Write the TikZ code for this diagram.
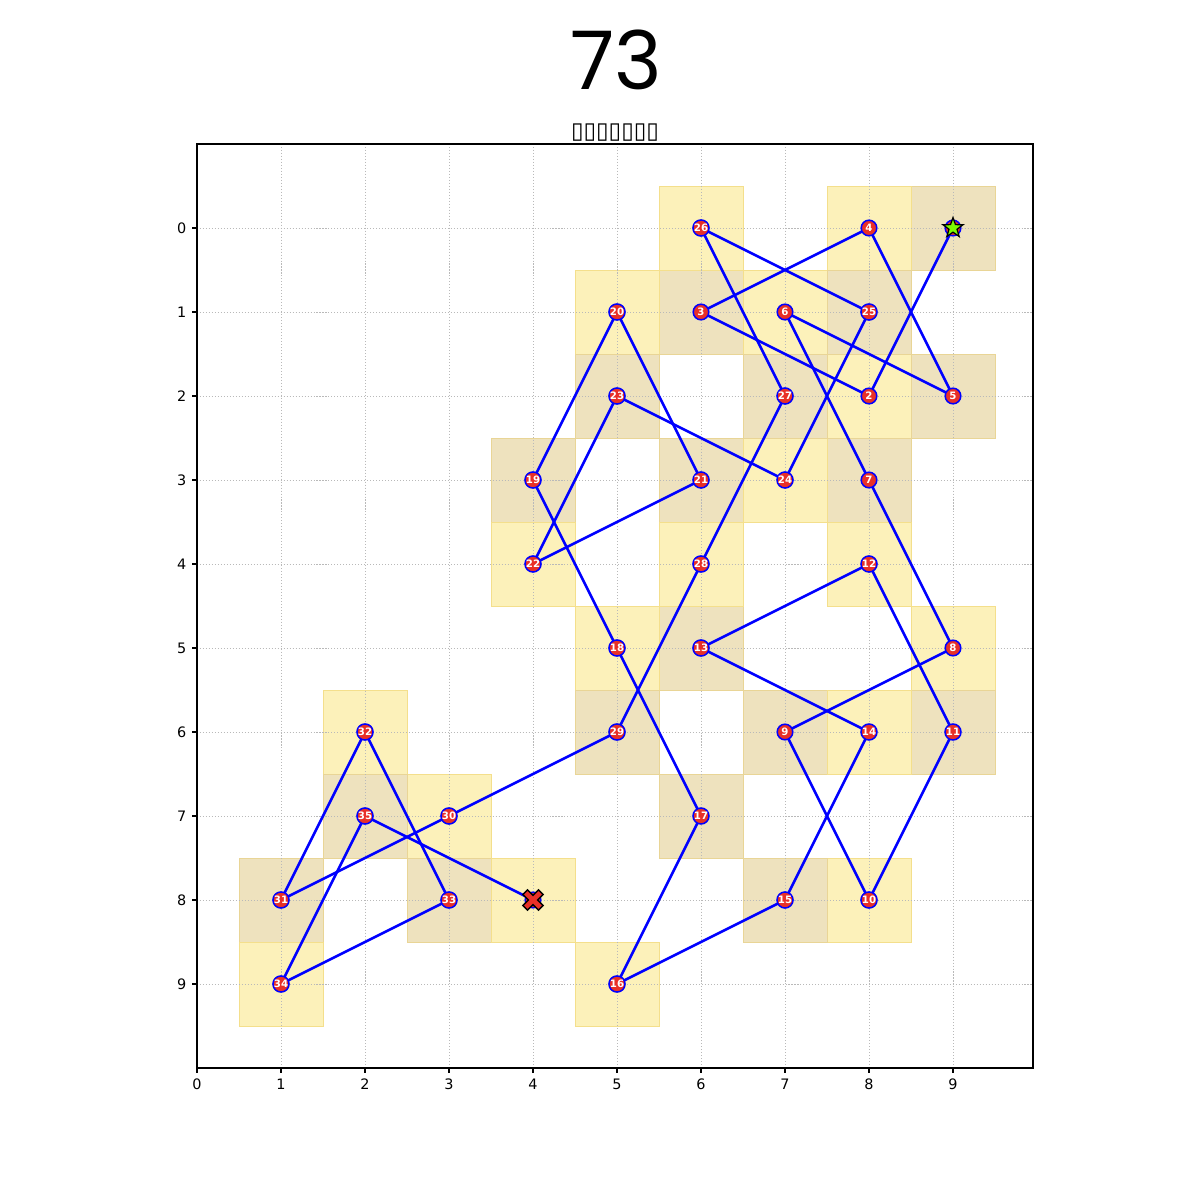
\documentclass[tikz,border=0pt]{standalone}
\usepackage{fontspec}
\setmainfont{DejaVu Sans}
\newfontfamily\titlefont{Poppins}
\newfontfamily\dvs{DejaVu Sans}
\usetikzlibrary{shapes.geometric}
\pgfdeclarelayer{bg}
\pgfsetlayers{bg,main}
\definecolor{cellAfill}{RGB}{252,241,186}
\definecolor{cellAedge}{RGB}{244,223,140}
\definecolor{cellBfill}{RGB}{238,226,190}
\definecolor{cellBedge}{RGB}{233,213,150}
\definecolor{dotred}{RGB}{232,48,40}
\definecolor{startgreen}{RGB}{124,252,0}
\definecolor{gridgray}{RGB}{185,185,185}
\tikzset{
  cellA/.style={fill=cellAfill, draw=cellAedge, line width=0.28pt},
  cellB/.style={fill=cellBfill, draw=cellBedge, line width=0.28pt},
  gridl/.style={gridgray, line width=0.25pt, dash pattern=on 0.3pt off 0.55pt},
  frame/.style={black, line width=0.32pt},
  tickl/.style={black, line width=0.32pt},
  ticklab/.style={font=\dvs\fontsize{4.1}{4.6}\selectfont, inner sep=0pt},
  tour/.style={blue, line width=0.75pt},
  dot/.style={circle, fill=dotred, draw=blue, line width=0.43pt, minimum size=1.56mm, inner sep=0pt,
     text=white, font=\dvs\bfseries\fontsize{2.9}{3}\selectfont},
  startmark/.style={star, star points=5, star point ratio=2.5, fill=startgreen, draw=black,
     line width=0.35pt, minimum size=2.1mm, inner sep=0pt},
  endmark/.style={fill=dotred, draw=black, line width=0.4pt, line join=miter},
}
\begin{document}
\begin{tikzpicture}[x=0.1mm,y=-0.1mm]
\useasboundingbox (0,0) rectangle (1200,1200);
\begin{pgfonlayer}{bg}
  \fill[white] (0,0) rectangle (1200,1200);
\end{pgfonlayer}
\node[font=\titlefont\fontsize{23}{26}\selectfont, inner sep=0pt] (title) at (616,60) {73};
\node[font=\dvs\fontsize{6.5}{7}\selectfont, inner sep=0pt] (subtitle) at (615,133) {▯▯▯▯▯▯▯};
\begin{scope}[shift={(1.97cm,-2.28cm)}, x=8.4mm, y=-8.4mm]
  \begin{pgfonlayer}{bg}
    \foreach \x/\y in {9/0,8/2,6/1,8/0,9/2,7/1,8/3,9/5,7/6,8/8,9/6,8/4,6/5,8/6,7/8,5/9,6/7,5/5,
                       4/3,5/1,6/3,4/4,5/2,7/3,8/1,6/0,7/2,6/4,5/6,3/7,1/8,2/6,3/8,1/9,2/7,4/8} {
      \pgfmathtruncatemacro\cellpar{mod(\x+\y,2)}
      \ifnum\cellpar=0 \def\cellsty{cellA}\else\def\cellsty{cellB}\fi
      \path[\cellsty] (\x-0.5,\y-0.5) rectangle (\x+0.5,\y+0.5);
    }
    \foreach \i in {0,...,9} {
      \draw[gridl] (\i,-1) -- (\i,10);
      \draw[gridl] (0,\i) -- (9.952,\i);
    }
  \end{pgfonlayer}
  % frame, ticks, labels
  \draw[frame] (0,-1) rectangle (9.952,10);
  \foreach \i in {0,...,9} {
    \draw[tickl] (\i,10) -- ++(0,-0.49mm);
    \node[ticklab] (xl\i) at (\i,10.19) {\i};
    \draw[tickl] (0,\i) -- ++(-0.49mm,0);
    \node[ticklab, anchor=east] (yl\i) at (-0.119,\i) {\i};
  }
  % tour nodes
  \node[dot] (n1) at (9,0) {};
  \foreach \x/\y/\n in {8/2/2,6/1/3,8/0/4,9/2/5,7/1/6,8/3/7,9/5/8,7/6/9,8/8/10,9/6/11,8/4/12,
                        6/5/13,8/6/14,7/8/15,5/9/16,6/7/17,5/5/18,4/3/19,5/1/20,6/3/21,4/4/22,
                        5/2/23,7/3/24,8/1/25,6/0/26,7/2/27,6/4/28,5/6/29,3/7/30,1/8/31,2/6/32,
                        3/8/33,1/9/34,2/7/35} {
    \node[dot] (n\n) at (\x,\y) {\n};
  }
  \node[dot] (n36) at (4,8) {};
  \begin{pgfonlayer}{bg}
    \foreach \a [evaluate=\a as \b using int(\a+1)] in {1,...,35} {
      \draw[tour] (n\a.center) -- (n\b.center);
    }
  \end{pgfonlayer}
\end{scope}
\node[startmark] (start) at (n1) {};
\begin{scope}[shift={(n36)}]
  \path[endmark] (0,4.67) -- (-5.44,10.11) -- (-10.11,5.44) -- (-4.67,0) -- (-10.11,-5.44)
    -- (-5.44,-10.11) -- (0,-4.67) -- (5.44,-10.11) -- (10.11,-5.44) -- (4.67,0)
    -- (10.11,5.44) -- (5.44,10.11) -- cycle;
\end{scope}
\end{tikzpicture}
\end{document}
